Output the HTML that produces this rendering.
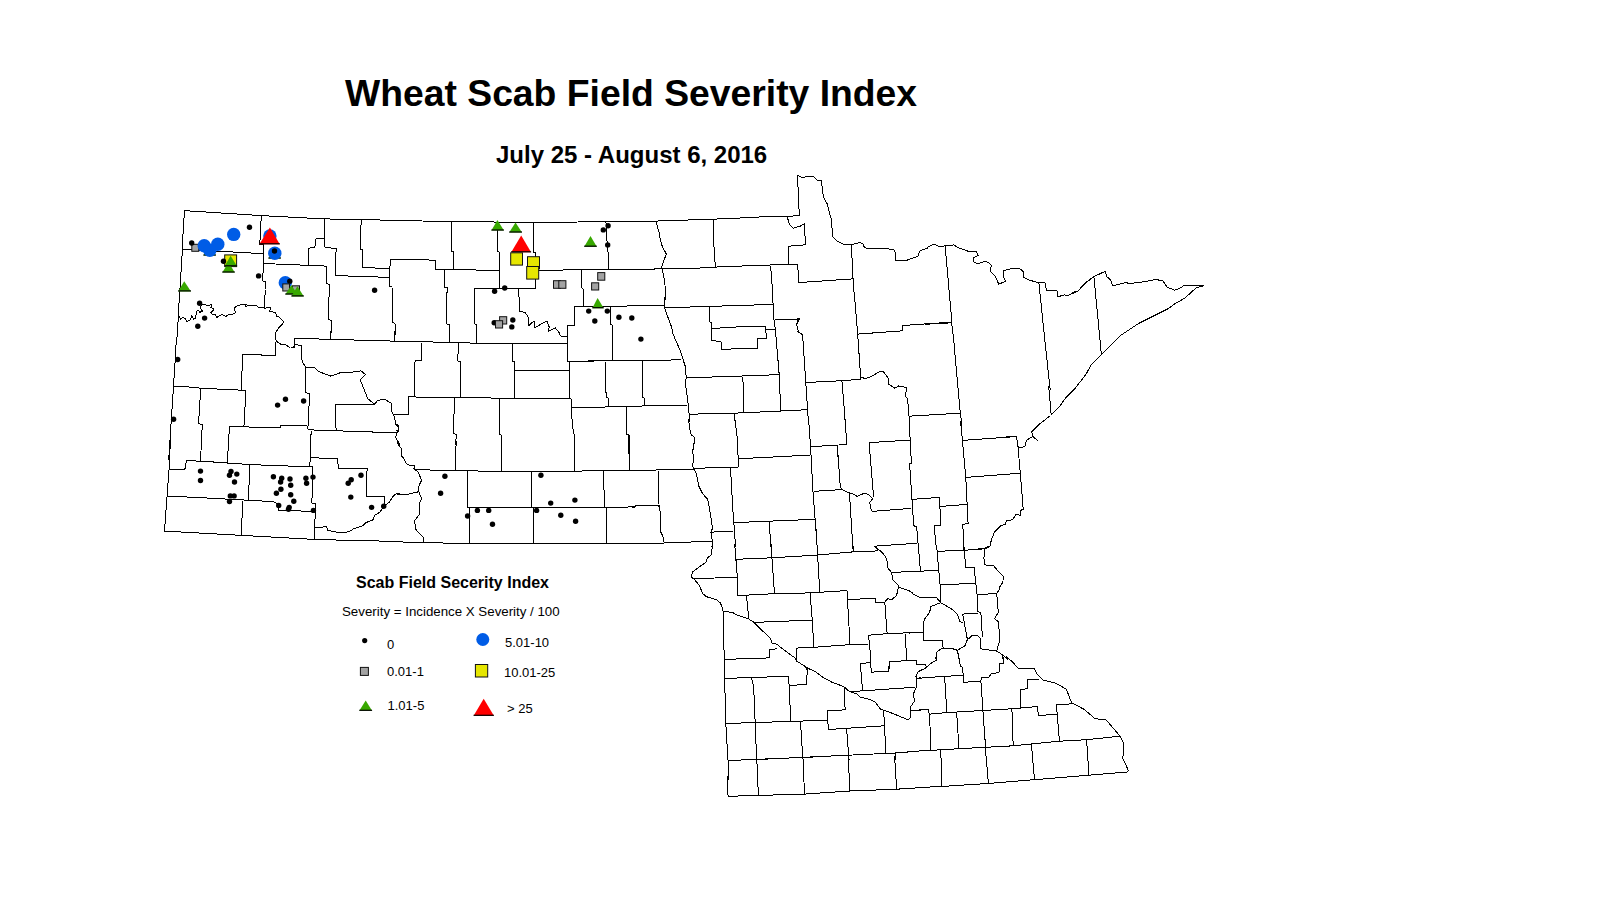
<!DOCTYPE html>
<html><head><meta charset="utf-8">
<style>
html,body{margin:0;padding:0;background:#fff;}
body{width:1612px;height:900px;overflow:hidden;position:relative;font-family:"Liberation Sans",sans-serif;}
svg{position:absolute;left:0;top:0;}
text{font-family:"Liberation Sans",sans-serif;fill:#000;}
</style></head><body>
<svg width="1612" height="900" viewBox="0 0 1612 900">
<g fill="none" stroke="#000" stroke-width="1" stroke-linejoin="round" shape-rendering="crispEdges">
<polyline points="184.2,210.6 261.3,215.6 324.0,218.9 400.0,220.4"/>
<polyline points="184.2,210.6 183.9,223.4 182.7,237.8 182.4,249.1 179.9,289.8"/>
<polyline points="182.4,249.1 262.8,253.7"/>
<polyline points="261.3,215.6 259.8,244.3 263.8,244.3 262.8,280.9 265.4,281.6 265.0,289.5"/>
<polyline points="263.1,263.5 326.3,266.1"/>
<polyline points="324.0,218.9 324.0,238.5 315.7,239.0 314.9,247.6 308.9,248.1 308.9,265.3"/>
<polyline points="324.0,238.5 324.0,246.9 336.1,248.7 335.3,275.6 389.8,277.4"/>
<polyline points="326.3,266.1 326.3,283.1 329.3,284.6 328.5,319.4 331.6,320.9 330.9,335.1"/>
<polyline points="361.8,220.0 360.7,227.2 360.3,249.1 362.5,249.9 362.5,267.3 389.8,268.8"/>
<polyline points="400.1,259.5 390.5,259.7 389.8,268.8 389.8,277.4 389.0,286.2 392.0,286.9 392.8,322.4 395.0,323.9 395.0,335.1"/>
<polyline points="617.6,306.4 642.4,305.4 664.3,305.4"/>
<polyline points="574.4,318.8 574.4,325.5 567.6,326.0 567.4,340.6"/>
<polyline points="563.6,336.3 567.3,336.6"/>
<polyline points="610.6,311.5 610.6,324.0 612.1,324.8 612.9,360.3"/>
<polyline points="588.2,361.0 637.1,360.7 680.9,359.8"/>
<polyline points="665.2,296.3 664.3,299.1 664.0,305.1 665.1,309.7 671.9,327.8 672.6,333.1 680.2,350.5 685.5,367.1 686.2,377.7 685.5,383.7 688.5,406.4 689.7,422.1"/>
<polyline points="665.1,307.8 773.1,304.4"/>
<polyline points="772.7,296.7 773.9,319.5 775.4,329.3 779.2,374.6 780.7,410.9"/>
<polyline points="774.6,319.5 798.8,319.0"/>
<polyline points="798.8,318.0 796.6,324.8 798.8,332.3 800.4,333.5"/>
<polyline points="709.6,306.9 709.6,321.7 711.2,322.5 711.2,340.6 721.0,341.4 721.7,349.3 757.3,348.2 757.3,338.7 766.3,338.4 765.6,326.3 747.4,326.3 711.9,328.5"/>
<polyline points="766.3,329.3 774.6,329.3"/>
<polyline points="686.2,377.4 718.7,376.9 779.2,374.6"/>
<polyline points="742.9,376.9 743.7,412.1"/>
<polyline points="690.0,414.2 733.8,413.2 783.7,410.9 800.1,410.7"/>
<polyline points="734.6,413.2 735.1,422.1"/>
<polyline points="605.3,362.3 606.1,397.3 608.4,398.1 608.5,400.8"/>
<polyline points="642.4,361.0 642.8,397.3 644.6,398.1 644.6,406.4"/>
<polyline points="614.6,406.5 687.0,405.2"/>
<polyline points="626.5,406.7 626.5,418.3"/>
<polyline points="688.6,418.9 689.7,428.6 691.2,434.7 695.0,437.7 692.7,451.3 693.5,458.8 692.7,466.4 696.5,474.0 698.8,486.0 702.6,493.6 707.8,499.6 711.6,520.8 712.4,528.4 710.9,532.9 712.4,540.5 711.9,547.2"/>
<polyline points="632.0,470.6 693.5,469.1 698.0,468.2 738.5,467.1"/>
<polyline points="734.8,418.9 737.3,437.7 738.5,467.1"/>
<polyline points="738.1,458.8 809.9,455.1"/>
<polyline points="730.5,467.9 732.8,508.7 735.6,547.1"/>
<polyline points="711.6,532.1 732.8,531.4"/>
<polyline points="808.6,419.0 810.6,446.7 812.9,490.6 816.2,533.2"/>
<polyline points="810.6,446.7 846.9,444.5 844.9,418.9"/>
<polyline points="837.1,444.9 837.9,456.8"/>
<polyline points="813.7,491.3 835.3,490.2"/>
<polyline points="734.0,522.6 815.2,519.3"/>
<polyline points="769.1,522.0 771.0,547.2"/>
<polyline points="658.4,470.9 658.0,506.1 659.9,506.1 660.5,531.5 663.0,536.5 663.6,542.4"/>
<polyline points="632.0,507.1 635.0,507.1 635.0,506.0 659.9,505.7"/>
<polyline points="632.0,543.5 658.7,543.2 712.4,541.2"/>
<polyline points="854.5,295.9 857.7,334.6 860.8,379.2"/>
<polyline points="951.4,321.5 953.7,339.9 959.8,407.9 961.9,425.1"/>
<polyline points="857.7,334.1 902.3,330.8 902.3,325.5 951.4,322.2"/>
<polyline points="796.8,319.1 799.5,318.4 796.9,324.0"/>
<polyline points="797.2,330.6 797.3,331.6 802.6,334.6 808.4,422.1"/>
<polyline points="805.9,382.5 841.9,380.7 860.8,379.2"/>
<polyline points="860.8,376.9 864.5,378.4 869.1,377.7 879.6,371.6 883.4,371.6 888.0,377.7 888.0,383.7 894.8,388.3 898.5,386.0 906.9,387.5 905.3,395.8 907.6,398.8 909.8,425.1"/>
<polyline points="841.9,380.7 845.3,422.1"/>
<polyline points="797.0,410.4 807.8,409.4"/>
<polyline points="909.1,416.2 959.8,413.2"/>
<polyline points="1077.2,386.0 1065.6,398.1 1059.5,406.5 1050.5,415.5 1039.9,423.8 1031.6,432.1 1033.1,436.7 1038.4,441.2"/>
<polyline points="1032.3,436.7 1026.3,440.5 1024.8,446.5 1020.2,448.0 1018.0,446.5"/>
<polyline points="1048.7,386.0 1051.2,414.8"/>
<polyline points="1003.7,437.2 1016.5,436.2 1018.0,446.5 1022.9,504.6"/>
<polyline points="1011.5,473.6 1020.2,473.0"/>
<polyline points="815.9,526.7 817.3,549.6"/>
<polyline points="846.3,442.3 846.4,444.2 844.6,444.3"/>
<polyline points="837.7,450.8 840.3,487.3 841.9,489.5"/>
<polyline points="832.2,490.2 841.9,489.5 848.7,492.6 851.7,493.3 857.0,496.3 863.0,493.8 868.3,494.1 872.8,498.6 869.8,502.4 870.6,507.7 872.1,511.4 911.4,508.4"/>
<polyline points="869.1,442.7 909.9,440.0"/>
<polyline points="869.1,442.7 873.6,497.1"/>
<polyline points="909.2,421.0 911.4,463.1 909.6,463.8 913.7,525.8 916.7,526.6 918.6,550.1"/>
<polyline points="912.1,499.4 939.4,497.4 940.9,525.1 934.1,525.8 936.5,550.2"/>
<polyline points="940.1,506.5 967.3,504.3"/>
<polyline points="960.6,421.0 965.8,477.4 968.1,523.5 962.8,524.3 964.0,550.1"/>
<polyline points="962.0,440.4 1010.5,437.0"/>
<polyline points="1022.3,498.4 1023.2,509.2 1020.2,510.7 1020.2,515.2 1015.7,514.5 1012.7,519.8 1006.6,520.5 1005.1,524.3 1000.6,525.8 994.5,531.9 991.5,539.4 990.0,546.2 985.5,548.5 985.3,549.4"/>
<polyline points="965.8,477.4 1015.3,473.6"/>
<polyline points="849.4,492.6 853.0,549.3"/>
<polyline points="874.4,546.2 878.1,549.5"/>
<polyline points="874.4,546.2 917.4,543.2"/>
<polyline points="973.9,549.3 985.5,548.5"/>
<polyline points="712.3,543.8 711.7,554.4 707.2,558.1 705.7,562.7 699.7,566.5 692.8,571.7 691.3,577.0 694.4,579.3 699.7,586.1 702.7,593.7 706.5,596.7 716.3,599.7 720.1,602.7 722.3,607.3 723.1,611.0 724.5,670.1"/>
<polyline points="723.1,611.0 732.9,612.6 736.7,614.8 748.0,618.6 754.1,622.4 770.7,639.0 772.2,643.5 777.5,644.3 780.5,647.3 794.9,657.9 796.4,660.9 807.0,667.7 810.3,669.4"/>
<polyline points="734.7,543.9 737.4,577.8 737.4,595.6"/>
<polyline points="692.8,578.5 737.4,577.5"/>
<polyline points="735.9,559.3 771.4,557.8 816.8,555.1 853.8,551.8 878.0,550.9"/>
<polyline points="771.5,544.0 771.9,557.8 774.5,593.7"/>
<polyline points="817.1,546.6 819.8,592.1"/>
<polyline points="853.5,545.9 853.5,551.8"/>
<polyline points="874.2,546.3 881.0,551.3 885.6,556.6 887.1,561.2 887.8,568.0 891.6,572.5 893.1,580.1 898.4,585.3 897.7,591.4 896.2,595.9 891.6,599.7 887.8,598.6 884.8,602.0 875.7,602.3 875.0,598.2 847.8,599.7"/>
<polyline points="898.4,586.9 908.2,590.6 912.6,592.8"/>
<polyline points="891.6,572.5 912.4,571.4"/>
<polyline points="737.4,595.6 774.5,593.7 810.0,592.9 847.0,590.6"/>
<polyline points="847.0,590.6 850.0,644.3"/>
<polyline points="810.0,592.9 812.3,620.1 813.8,647.3"/>
<polyline points="746.5,595.9 748.8,619.4"/>
<polyline points="754.1,622.4 812.3,620.1"/>
<polyline points="796.4,648.1 813.8,647.3 850.0,644.6 868.9,644.0"/>
<polyline points="796.4,648.1 796.4,660.9"/>
<polyline points="884.8,602.0 887.1,633.7"/>
<polyline points="868.2,635.2 887.1,633.7 913.0,632.6"/>
<polyline points="868.2,635.2 869.7,644.3 871.1,669.6"/>
<polyline points="889.4,669.3 889.4,661.7 912.9,660.3"/>
<polyline points="905.2,633.7 906.7,660.2"/>
<polyline points="860.6,669.5 860.6,663.9 869.7,662.4"/>
<polyline points="724.6,659.4 769.2,657.9 769.2,649.6 777.5,648.8"/>
<polyline points="806.2,667.7 806.4,669.6"/>
<polyline points="918.4,546.3 920.4,571.0"/>
<polyline points="909.7,571.8 937.8,570.2"/>
<polyline points="936.7,546.6 940.1,585.3 940.8,602.7"/>
<polyline points="937.0,551.3 963.5,550.3 984.6,548.8 987.7,546.3"/>
<polyline points="964.0,546.5 965.8,568.0 974.1,567.5 977.1,594.4 977.8,611.8 980.9,612.6 982.4,636.7"/>
<polyline points="940.1,585.0 975.6,583.1"/>
<polyline points="984.6,548.8 983.9,558.1 984.6,564.9 993.7,565.7 996.7,569.5 1003.5,576.3 1002.8,582.3 999.8,586.9 999.0,589.9 996.7,593.7 977.1,594.4"/>
<polyline points="996.7,593.7 998.3,612.6 994.5,618.6 998.3,621.6 999.0,629.2 999.0,642.8 996.7,651.1"/>
<polyline points="909.1,590.6 913.6,594.4 919.7,597.4 936.3,597.4 940.8,602.7"/>
<polyline points="940.8,602.7 931.0,606.5 929.5,612.6 924.9,618.6 923.4,622.4 923.4,640.5 942.3,640.5 943.1,648.1 952.9,648.8 957.4,650.3 965.0,645.8 967.3,639.8 972.6,635.2 977.1,635.2 980.1,638.3 980.9,648.8 996.7,651.1 1002.8,654.9 1007.7,659.8"/>
<polyline points="940.8,602.7 951.4,608.8 957.4,614.1 959.7,621.6 963.5,623.1"/>
<polyline points="962.7,614.1 977.8,613.3"/>
<polyline points="962.7,614.1 967.3,639.0"/>
<polyline points="908.8,633.1 923.4,632.2"/>
<polyline points="908.8,660.9 916.6,660.2 916.6,662.1"/>
<polyline points="942.3,648.1 937.0,651.9 935.5,659.4"/>
<polyline points="957.4,650.3 959.2,659.7"/>
<polyline points="1002.8,654.9 1002.8,659.4"/>
<polyline points="724.4,665.9 725.7,722.0 728.0,759.8 728.4,780.4"/>
<polyline points="805.1,666.7 807.3,668.3 814.9,671.3 823.9,678.1 833.0,682.7 843.6,686.5 849.6,691.7 857.2,694.0 860.2,697.0 869.3,699.3 875.3,702.3 880.6,709.1 893.5,713.7 907.8,719.7 910.9,717.4 910.1,707.6 914.6,700.8 913.1,694.8 916.2,687.2 916.9,679.7 916.2,675.1 917.2,673.6"/>
<polyline points="724.9,678.4 788.4,676.3 789.2,685.7 806.6,684.2 807.3,668.3"/>
<polyline points="751.4,677.8 753.7,687.2 756.7,760.0"/>
<polyline points="789.2,685.7 790.7,721.2"/>
<polyline points="725.7,723.5 827.7,720.2"/>
<polyline points="827.7,720.2 827.0,710.6 845.1,709.9 844.4,687.2"/>
<polyline points="827.7,720.2 828.5,729.5 883.7,725.8"/>
<polyline points="800.5,722.0 802.9,759.4"/>
<polyline points="846.6,728.8 849.1,760.1"/>
<polyline points="883.7,710.6 885.9,753.0"/>
<polyline points="728.0,760.5 749.6,759.7"/>
<polyline points="761.4,759.3 895.0,753.0 913.6,751.6"/>
<polyline points="895.0,753.0 895.3,759.8"/>
<polyline points="910.1,710.6 922.5,709.9"/>
<polyline points="850.4,691.7 915.4,687.2"/>
<polyline points="860.5,665.9 862.5,690.2"/>
<polyline points="870.7,666.2 871.6,672.1 888.9,671.3 888.9,666.4"/>
<polyline points="916.9,678.1 920.8,677.9"/>
<polyline points="908.9,660.7 915.9,660.4 916.6,664.2 925.7,664.9 926.5,668.0"/>
<polyline points="936.3,656.0 936.3,660.4 931.7,662.7 925.7,668.0 918.1,671.7 915.9,676.3 916.2,678.9"/>
<polyline points="958.7,656.7 960.5,666.5 962.7,667.2 963.5,682.3 980.9,681.1"/>
<polyline points="1005.8,656.6 1011.9,661.2 1017.9,668.0 1033.8,668.0 1037.6,674.8 1042.8,680.1 1055.7,683.1 1066.3,689.1 1071.6,702.7 1084.4,709.5 1095.0,718.6 1104.6,720.0"/>
<polyline points="1002.9,656.0 1003.5,663.4 999.8,663.4 999.0,672.5 990.7,674.0 989.2,677.0 981.6,677.0 980.9,681.1 984.6,734.7"/>
<polyline points="915.9,678.5 944.6,676.3 962.7,675.5"/>
<polyline points="944.6,676.3 946.9,712.6"/>
<polyline points="919.3,709.9 928.0,709.5 929.5,714.1 946.9,712.6 1011.9,708.8 1037.6,706.5 1038.3,715.6 1057.2,714.1 1056.4,705.0 1071.6,703.8"/>
<polyline points="1039.1,679.3 1027.7,679.6 1027.7,688.7 1020.2,689.6 1020.9,708.0"/>
<polyline points="929.5,714.1 931.0,750.3"/>
<polyline points="956.7,713.3 959.0,748.5"/>
<polyline points="1011.9,708.8 1012.7,730.2"/>
<polyline points="1057.2,714.1 1058.5,729.4"/>
<polyline points="924.2,750.8 970.7,748.0"/>
<polyline points="940.8,750.3 941.3,768.1"/>
<polyline points="727.4,775.5 727.4,787.3 728.1,796.3"/>
<polyline points="756.7,756.4 758.4,795.6"/>
<polyline points="802.9,756.0 804.5,794.1"/>
<polyline points="848.3,756.5 849.8,791.0"/>
<polyline points="894.6,756.2 896.7,789.5"/>
<polyline points="941.0,762.0 942.0,786.5"/>
<polyline points="743.1,759.9 820.7,756.7"/>
<polyline points="907.0,751.8 929.7,750.3"/>
<polyline points="728.1,796.3 804.5,794.1 849.8,791.0 896.7,789.2 942.0,786.2 948.0,786.2"/>
<polyline points="178.7,316.1 180.6,319.1 183.2,317.2 185.1,318.7 187.0,321.4 190.0,320.2 191.9,315.7 193.4,319.1 195.7,318.0 196.4,311.2 198.7,310.4 199.8,312.3 202.5,311.2 200.6,308.1 201.0,305.9 203.2,304.4 209.3,305.9 211.2,304.0 211.6,305.9 210.8,307.4 213.5,308.9 213.1,310.4 210.8,312.7 212.3,314.2 215.3,314.6 216.9,317.6 219.1,315.7 222.1,314.6 225.9,316.4 228.2,314.9 232.7,314.2 235.7,312.7 234.2,308.1 237.3,305.5 242.5,304.4 246.3,304.7 245.6,306.2 249.3,305.5 256.9,305.9 258.4,307.4 262.2,307.0 264.5,308.1 270.5,307.8 269.7,311.2 275.8,312.7 276.5,316.4 279.6,317.2 283.4,321.7 282.6,324.0 278.8,327.8 275.8,332.3 275.4,339.1 277.3,342.1 281.1,344.4 285.6,344.8 290.0,347.8"/>
<polyline points="179.1,290.0 179.1,302.8 178.3,303.2 178.3,321.7 177.6,322.5 177.2,336.9 176.4,337.6 175.3,358.0"/>
<polyline points="265.2,290.0 264.5,308.1"/>
<polyline points="275.8,342.1 275.8,355.0 261.4,355.0 260.7,354.2 242.5,354.6 242.5,358.0"/>
<polyline points="396.9,220.5 452.4,221.6 533.3,222.4 635.1,221.5"/>
<polyline points="452.4,221.6 451.7,222.7 451.2,251.4 454.0,252.1 453.2,269.5"/>
<polyline points="397.0,259.0 425.2,259.7 435.1,260.5 435.5,269.5 499.3,270.3"/>
<polyline points="497.5,221.6 497.5,251.4 499.3,252.1 499.3,288.4"/>
<polyline points="533.3,222.4 533.3,252.1 535.6,252.9 536.0,270.3 535.6,288.4"/>
<polyline points="474.4,288.4 535.6,288.4"/>
<polyline points="474.4,288.4 474.4,323.9 476.6,324.7 476.6,335.1"/>
<polyline points="518.9,288.4 519.2,311.1 525.0,312.6 528.0,316.4 528.8,325.5 534.1,320.9 534.8,327.7 546.9,320.9 549.2,327.0 548.4,331.5 555.2,327.7 560.5,334.5"/>
<polyline points="444.9,269.5 444.1,286.9 447.1,287.7 446.4,323.9 449.1,324.7 449.4,335.1"/>
<polyline points="536.0,270.3 635.1,269.2"/>
<polyline points="605.9,221.6 606.6,230.2 607.4,251.4 608.4,252.1 608.4,269.2"/>
<polyline points="581.7,270.3 581.7,287.7 583.2,289.2 583.9,306.6 574.9,306.6 574.2,324.5"/>
<polyline points="573.1,325.5 567.3,325.5 567.3,331.2"/>
<polyline points="583.9,306.6 623.2,306.6"/>
<polyline points="610.4,306.6 610.4,314.3"/>
<polyline points="984.6,728.7 985.3,747.3 988.4,783.5"/>
<polyline points="1099.8,719.2 1106.3,720.1 1119.9,735.9 1123.7,743.5 1122.9,758.6 1125.9,764.6 1128.2,770.7"/>
<polyline points="1058.2,726.4 1059.4,741.2"/>
<polyline points="1012.1,726.3 1013.3,745.8"/>
<polyline points="964.8,748.4 1013.3,745.8 1059.4,741.2 1086.6,739.7 1119.9,736.2"/>
<polyline points="1031.4,744.2 1034.5,779.8"/>
<polyline points="1086.6,739.7 1088.9,775.2"/>
<polyline points="943.9,786.3 988.4,783.5 1128.2,771.9"/>
<polyline points="632.0,221.4 655.7,221.1 726.7,218.7 776.6,216.1 787.2,216.6 799.3,215.3 797.5,175.3 802.3,177.6 808.4,176.3 813.7,176.8 817.4,180.6 821.2,180.6 823.5,197.2 827.3,204.0 831.0,218.4 832.5,232.0 832.2,236.5 837.1,241.0 843.1,244.1 851.4,244.8 859.8,242.6 863.5,244.1 864.3,247.8 870.1,248.4"/>
<polyline points="787.2,216.9 789.5,224.4 793.2,228.2 800.8,225.9 804.6,223.7 805.3,244.8 788.0,246.3 788.4,264.5"/>
<polyline points="655.7,221.1 659.5,233.5 660.2,239.5 662.5,247.1 666.3,253.9 661.7,266.7 664.8,281.9 665.5,293.9 665.2,299.5"/>
<polyline points="632.0,269.4 695.0,268.3 722.2,266.7 784.2,264.5 797.8,264.5"/>
<polyline points="713.1,219.6 713.9,245.6 715.4,267.5"/>
<polyline points="770.6,266.0 772.1,284.9 772.6,299.3"/>
<polyline points="797.8,264.5 798.5,282.6 853.7,278.8"/>
<polyline points="851.4,244.8 853.0,278.8 854.7,300.2"/>
<polyline points="866.9,248.2 872.6,249.0 883.1,248.4 893.7,249.5 895.2,252.5 895.5,260.5 907.3,260.1 917.9,256.3 919.4,251.7 922.4,249.5 927.0,248.7 928.5,246.5 934.5,244.2 939.1,246.5 954.2,244.9 957.2,247.2 969.3,251.7 976.1,251.7 978.4,255.5 973.8,257.8 973.1,261.6 977.6,263.8 984.4,261.6 988.2,262.3 991.2,265.3 990.5,271.4 995.0,275.9 998.8,284.2 1005.6,281.2 1003.3,276.7 1003.3,270.6 1012.4,268.4 1019.2,268.1 1023.7,272.1 1023.7,277.4 1028.2,279.7 1035.8,282.0 1044.9,282.0 1046.4,290.3 1057.0,291.0 1057.0,297.1 1064.5,294.8 1067.5,295.6 1078.1,291.0 1085.7,282.0 1089.9,279.9"/>
<polyline points="945.1,246.0 951.2,313.7 951.4,324.7"/>
<polyline points="924.5,324.3 951.2,322.8"/>
<polyline points="1038.8,282.0 1043.3,325.4"/>
<polyline points="1072.0,292.5 1078.0,291.0 1085.6,282.7 1093.9,276.6 1105.2,271.3 1106.7,276.6 1110.5,279.7 1112.8,285.7 1124.9,282.7 1130.9,283.4 1143.0,281.9 1155.1,279.7 1162.7,280.4 1167.2,287.2 1174.8,290.2 1179.3,288.7 1183.8,285.7 1203.5,285.7"/>
<polyline points="1203.5,285.7 1195.9,288.0 1185.3,297.8 1174.8,303.8 1168.7,308.4 1138.5,323.5 1120.3,335.6 1091.6,364.3 1085.6,374.9 1073.9,389.8"/>
<polyline points="1042.7,320.1 1050.2,390.1"/>
<polyline points="1093.9,276.6 1101.4,354.5"/>
<polyline points="175.3,358.3 168.7,460.1"/>
<polyline points="173.6,386.2 185.7,386.7 200.8,388.2 241.6,390.2 245.9,390.8"/>
<polyline points="200.8,388.2 198.5,423.7 202.3,424.5 201.3,444.9"/>
<polyline points="241.6,390.2 242.3,357.9"/>
<polyline points="290.5,346.9 293.0,348.1 295.3,344.4 302.1,345.9 301.3,349.7 302.1,361.7 305.9,367.0 314.2,367.0 318.7,371.6 330.8,376.1 341.4,372.3 350.5,372.3 361.0,370.8 365.6,374.6 360.3,379.9 367.8,398.8 374.6,404.1 377.7,400.3 385.2,399.5 391.3,403.3 392.0,412.4 394.3,416.2 395.8,424.5 398.8,428.3 396.6,432.8 395.8,437.3 399.8,445.1"/>
<polyline points="294.5,348.1 294.2,338.3 400.0,341.3"/>
<polyline points="330.8,330.9 330.8,339.1"/>
<polyline points="394.3,330.9 394.3,341.3"/>
<polyline points="245.9,390.8 243.9,426.7 229.5,426.7 228.4,444.4"/>
<polyline points="243.9,426.7 262.8,427.9 280.9,427.9 280.9,425.5 307.4,426.0 308.1,429.8 395.8,432.8"/>
<polyline points="305.9,367.0 305.1,392.7 309.6,393.5 308.1,426.0"/>
<polyline points="336.1,430.5 335.3,404.1 374.6,404.1"/>
<polyline points="392.8,414.6 400.2,414.6"/>
<polyline points="311.2,430.5 310.6,444.3"/>
<polyline points="171.0,427.9 169.1,468.4 164.5,531.1"/>
<polyline points="169.1,469.6 184.9,469.1 186.5,460.8 200.8,461.1 249.9,464.6 312.7,466.9"/>
<polyline points="201.5,441.0 200.5,460.8"/>
<polyline points="228.6,441.5 227.3,463.1"/>
<polyline points="310.9,441.3 310.4,457.8 309.6,466.1"/>
<polyline points="311.2,457.8 337.6,458.5 338.4,468.4 367.1,468.4 366.3,496.3 384.5,496.3 385.2,506.2"/>
<polyline points="249.9,464.6 248.4,500.1"/>
<polyline points="166.8,496.3 190.2,497.1 273.4,501.6 278.7,504.6 278.7,510.4 315.7,511.4"/>
<polyline points="242.4,500.9 241.6,535.6"/>
<polyline points="312.7,466.9 311.9,503.1 315.7,503.1 314.2,539.4"/>
<polyline points="314.2,528.1 326.3,526.6 327.8,530.3 338.4,532.6 348.9,531.9 353.5,528.8 362.5,525.8 365.6,522.8 373.1,519.8 374.6,515.2 379.9,512.2 383.0,507.7 389.8,501.6 393.5,495.6 397.3,493.3 400.1,494.2"/>
<polyline points="164.5,531.1 314.2,539.4 367.1,540.9 400.0,541.2"/>
<polyline points="397.0,341.4 455.5,342.4 476.6,343.3 567.3,343.3"/>
<polyline points="449.4,331.0 449.4,342.4"/>
<polyline points="476.6,331.0 476.6,343.3"/>
<polyline points="549.2,331.5 549.2,332.3"/>
<polyline points="558.4,331.7 560.5,336.0 567.3,336.3"/>
<polyline points="421.5,342.8 421.5,360.2 415.4,360.5 414.3,365.5 414.3,396.5 408.6,396.5 408.3,414.3 396.9,414.3"/>
<polyline points="458.5,343.3 457.7,361.0 460.3,361.7 460.3,397.3"/>
<polyline points="512.6,343.6 512.6,361.4 514.4,361.7 514.4,398.3"/>
<polyline points="514.4,370.5 568.8,370.5"/>
<polyline points="567.3,334.0 567.3,361.0 569.6,361.7 569.6,398.3"/>
<polyline points="567.3,361.4 594.2,361.4"/>
<polyline points="606.5,392.5 606.6,397.3 608.4,398.0 608.4,406.3"/>
<polyline points="408.6,396.5 420.7,397.3 571.1,398.8"/>
<polyline points="571.1,398.8 571.5,407.1 585.5,407.4 621.1,406.7"/>
<polyline points="454.7,398.0 453.2,433.5 456.2,434.3 455.8,445.1"/>
<polyline points="499.3,398.8 499.3,434.3 501.6,435.1 501.6,445.0"/>
<polyline points="571.1,407.1 572.6,426.7 574.1,434.3 574.4,445.2"/>
<polyline points="626.3,411.9 626.3,434.3 628.5,435.1 629.2,461.0"/>
<polyline points="396.8,423.7 398.0,425.2 398.8,429.8 396.5,430.7"/>
<polyline points="397.0,442.6 401.8,449.4 401.8,455.5 404.5,460.0"/>
<polyline points="396.8,424.1 398.0,425.3 398.8,430.6 397.0,432.8"/>
<polyline points="397.0,442.0 401.8,449.5 401.8,457.0 404.8,460.1 406.3,463.8 410.1,465.3 414.7,465.3 413.9,469.1 418.4,472.1 421.5,480.5 419.2,485.0 418.4,490.3 421.5,498.6 419.9,502.4 419.2,509.2 419.9,513.7 414.7,520.5 415.4,528.8 418.4,532.6 423.0,537.1 423.7,541.7"/>
<polyline points="396.7,494.3 401.0,494.8 408.6,494.1 418.4,491.8"/>
<polyline points="414.7,469.9 455.5,470.2 488.7,471.4 574.9,471.4 590.0,470.6 635.0,470.3"/>
<polyline points="456.3,441.2 455.5,454.8 455.5,469.9"/>
<polyline points="501.0,441.2 501.6,470.6"/>
<polyline points="574.6,441.0 574.6,471.4"/>
<polyline points="626.7,427.7 627.0,434.4 629.0,435.1 629.3,470.3"/>
<polyline points="467.6,471.4 467.6,507.4 604.4,507.4 635.0,506.9"/>
<polyline points="531.0,471.4 531.8,507.4"/>
<polyline points="603.6,471.1 604.4,507.4"/>
<polyline points="469.1,507.4 469.4,543.2"/>
<polyline points="533.3,507.7 533.3,543.2"/>
<polyline points="606.6,507.7 606.6,543.2"/>
<polyline points="396.8,541.2 403.3,542.1 450.9,543.2 587.0,543.9 635.0,543.2"/>
</g>
<g>
<polygon points="209.6,245.0 203.4,255.5 215.9,255.5" fill="#38a800"/><line x1="203.4" y1="255.0" x2="215.9" y2="255.0" stroke="#000" stroke-width="1.2"/>
<polygon points="274.6,248.0 268.4,258.5 280.9,258.5" fill="#38a800"/><line x1="268.4" y1="258.0" x2="280.9" y2="258.0" stroke="#000" stroke-width="1.2"/>
<rect x="191.8" y="244.3" width="7.0" height="7.0" fill="#a3a3a3" stroke="#111" stroke-width="1"/>
<circle cx="191.7" cy="243.0" r="2.7" fill="#000"/>
<circle cx="233.7" cy="234.4" r="6.7" fill="#005ce6"/>
<circle cx="204.2" cy="245.7" r="6.7" fill="#005ce6"/>
<circle cx="217.8" cy="244.2" r="6.7" fill="#005ce6"/>
<circle cx="209.8" cy="250.2" r="6.7" fill="#005ce6"/>
<circle cx="249.5" cy="227.2" r="2.7" fill="#000"/>
<circle cx="269.9" cy="235.9" r="6.7" fill="#005ce6"/>
<polygon points="269.9,227.6 259.3,244.3 279.8,244.3" fill="#ff0000"/><line x1="259.3" y1="243.8" x2="279.8" y2="243.8" stroke="#000" stroke-width="1.2"/>
<circle cx="274.8" cy="253.2" r="6.7" fill="#005ce6"/>
<circle cx="274.5" cy="251.0" r="2.7" fill="#000"/>
<rect x="224.7" y="254.9" width="11.9" height="11.7" fill="#e6e600" stroke="#111" stroke-width="1"/>
<polygon points="228.5,262.3 222.3,272.5 234.8,272.5" fill="#38a800"/><line x1="222.3" y1="272.0" x2="234.8" y2="272.0" stroke="#000" stroke-width="1.2"/>
<polygon points="230.6,255.8 224.6,266.3 237.1,266.3" fill="#38a800"/><line x1="224.6" y1="265.8" x2="237.1" y2="265.8" stroke="#000" stroke-width="1.2"/>
<circle cx="223.5" cy="261.2" r="2.7" fill="#000"/>
<circle cx="258.6" cy="275.9" r="2.7" fill="#000"/>
<rect x="292.5" y="285.8" width="7.0" height="7.0" fill="#a3a3a3" stroke="#111" stroke-width="1"/>
<circle cx="285.3" cy="282.8" r="6.7" fill="#005ce6"/>
<circle cx="289.8" cy="281.3" r="2.7" fill="#000"/>
<rect x="282.8" y="283.9" width="6.7" height="7.1" fill="#a3a3a3" stroke="#111" stroke-width="1"/>
<polygon points="291.4,285.1 285.3,294.5 297.5,294.5" fill="#38a800"/><line x1="285.3" y1="294.0" x2="297.5" y2="294.0" stroke="#000" stroke-width="1.2"/>
<polygon points="297.4,286.2 291.4,296.4 303.8,296.4" fill="#38a800"/><line x1="291.4" y1="295.9" x2="303.8" y2="295.9" stroke="#000" stroke-width="1.2"/>
<polygon points="184.2,281.3 178.1,291.4 191.0,291.4" fill="#38a800"/><line x1="178.1" y1="290.9" x2="191.0" y2="290.9" stroke="#000" stroke-width="1.2"/>
<polygon points="497.4,220.1 491.4,230.5 503.9,230.5" fill="#38a800"/><line x1="491.4" y1="230.0" x2="503.9" y2="230.0" stroke="#000" stroke-width="1.2"/>
<polygon points="515.5,222.6 509.2,232.5 522.0,232.5" fill="#38a800"/><line x1="509.2" y1="232.0" x2="522.0" y2="232.0" stroke="#000" stroke-width="1.2"/>
<polygon points="521.2,235.5 511.2,252.3 531.1,252.3" fill="#ff0000"/><line x1="511.2" y1="251.8" x2="531.1" y2="251.8" stroke="#000" stroke-width="1.2"/>
<rect x="510.7" y="252.8" width="11.8" height="12.3" fill="#e6e600" stroke="#111" stroke-width="1"/>
<rect x="527.5" y="256.7" width="12.0" height="12.0" fill="#e6e600" stroke="#111" stroke-width="1"/>
<rect x="526.7" y="266.5" width="12.0" height="12.6" fill="#e6e600" stroke="#111" stroke-width="1"/>
<polygon points="590.5,236.0 584.2,246.7 596.8,246.7" fill="#38a800"/><line x1="584.2" y1="246.2" x2="596.8" y2="246.2" stroke="#000" stroke-width="1.2"/>
<circle cx="603.3" cy="229.9" r="2.7" fill="#000"/>
<circle cx="608.1" cy="225.8" r="2.7" fill="#000"/>
<circle cx="607.7" cy="244.9" r="2.7" fill="#000"/>
<rect x="553.5" y="280.7" width="7.0" height="7.6" fill="#a3a3a3" stroke="#111" stroke-width="1"/>
<rect x="558.8" y="280.7" width="7.1" height="7.6" fill="#a3a3a3" stroke="#111" stroke-width="1"/>
<rect x="597.7" y="272.6" width="7.1" height="7.6" fill="#a3a3a3" stroke="#111" stroke-width="1"/>
<rect x="591.6" y="282.8" width="7.1" height="7.2" fill="#a3a3a3" stroke="#111" stroke-width="1"/>
<circle cx="494.6" cy="291.2" r="2.7" fill="#000"/>
<circle cx="504.7" cy="288.0" r="2.7" fill="#000"/>
<circle cx="588.7" cy="311.1" r="2.7" fill="#000"/>
<circle cx="607.3" cy="311.1" r="2.7" fill="#000"/>
<circle cx="594.8" cy="321.0" r="2.7" fill="#000"/>
<polygon points="597.6,298.1 592.3,308.2 603.7,308.2" fill="#38a800"/><line x1="592.3" y1="307.7" x2="603.7" y2="307.7" stroke="#000" stroke-width="1.2"/>
<circle cx="494.2" cy="322.8" r="2.7" fill="#000"/>
<rect x="499.6" y="316.7" width="7.1" height="7.3" fill="#a3a3a3" stroke="#111" stroke-width="1"/>
<rect x="495.5" y="320.7" width="7.1" height="7.3" fill="#a3a3a3" stroke="#111" stroke-width="1"/>
<circle cx="512.8" cy="320.0" r="2.7" fill="#000"/>
<circle cx="511.8" cy="326.9" r="2.7" fill="#000"/>
<circle cx="200.5" cy="471.1" r="2.7" fill="#000"/>
<circle cx="200.5" cy="480.5" r="2.7" fill="#000"/>
<circle cx="231.0" cy="471.4" r="2.7" fill="#000"/>
<circle cx="229.5" cy="475.2" r="2.7" fill="#000"/>
<circle cx="236.8" cy="474.1" r="2.7" fill="#000"/>
<circle cx="234.5" cy="482.0" r="2.7" fill="#000"/>
<circle cx="230.3" cy="495.9" r="2.7" fill="#000"/>
<circle cx="234.1" cy="495.9" r="2.7" fill="#000"/>
<circle cx="229.5" cy="501.6" r="2.7" fill="#000"/>
<circle cx="273.4" cy="476.7" r="2.7" fill="#000"/>
<circle cx="281.7" cy="478.2" r="2.7" fill="#000"/>
<circle cx="280.6" cy="482.0" r="2.7" fill="#000"/>
<circle cx="290.0" cy="479.0" r="2.7" fill="#000"/>
<circle cx="290.7" cy="485.3" r="2.7" fill="#000"/>
<circle cx="280.9" cy="489.2" r="2.7" fill="#000"/>
<circle cx="276.4" cy="493.3" r="2.7" fill="#000"/>
<circle cx="290.7" cy="494.8" r="2.7" fill="#000"/>
<circle cx="293.8" cy="501.3" r="2.7" fill="#000"/>
<circle cx="278.7" cy="505.4" r="2.7" fill="#000"/>
<circle cx="289.2" cy="507.4" r="2.7" fill="#000"/>
<circle cx="288.5" cy="509.2" r="2.7" fill="#000"/>
<circle cx="305.9" cy="478.2" r="2.7" fill="#000"/>
<circle cx="306.6" cy="483.2" r="2.7" fill="#000"/>
<circle cx="313.0" cy="477.1" r="2.7" fill="#000"/>
<circle cx="313.4" cy="510.4" r="2.7" fill="#000"/>
<circle cx="351.2" cy="479.7" r="2.7" fill="#000"/>
<circle cx="348.2" cy="483.2" r="2.7" fill="#000"/>
<circle cx="361.0" cy="475.2" r="2.7" fill="#000"/>
<circle cx="350.8" cy="497.1" r="2.7" fill="#000"/>
<circle cx="371.6" cy="507.4" r="2.7" fill="#000"/>
<circle cx="383.7" cy="506.2" r="2.7" fill="#000"/>
<circle cx="444.9" cy="476.2" r="2.7" fill="#000"/>
<circle cx="440.6" cy="493.3" r="2.7" fill="#000"/>
<circle cx="467.6" cy="516.0" r="2.7" fill="#000"/>
<circle cx="477.4" cy="510.4" r="2.7" fill="#000"/>
<circle cx="488.7" cy="510.4" r="2.7" fill="#000"/>
<circle cx="492.5" cy="524.3" r="2.7" fill="#000"/>
<circle cx="540.9" cy="475.2" r="2.7" fill="#000"/>
<circle cx="550.7" cy="503.1" r="2.7" fill="#000"/>
<circle cx="574.9" cy="500.1" r="2.7" fill="#000"/>
<circle cx="536.6" cy="510.4" r="2.7" fill="#000"/>
<circle cx="560.8" cy="515.2" r="2.7" fill="#000"/>
<circle cx="575.6" cy="521.3" r="2.7" fill="#000"/>
<circle cx="618.9" cy="317.2" r="2.7" fill="#000"/>
<circle cx="631.8" cy="318.0" r="2.7" fill="#000"/>
<circle cx="640.9" cy="339.1" r="2.7" fill="#000"/>
<circle cx="177.7" cy="359.5" r="2.7" fill="#000"/>
<circle cx="173.6" cy="419.2" r="2.7" fill="#000"/>
<circle cx="285.5" cy="399.2" r="2.7" fill="#000"/>
<circle cx="277.6" cy="405.1" r="2.7" fill="#000"/>
<circle cx="303.6" cy="401.0" r="2.7" fill="#000"/>
<circle cx="199.6" cy="303.2" r="2.7" fill="#000"/>
<circle cx="204.6" cy="318.1" r="2.7" fill="#000"/>
<circle cx="197.8" cy="326.3" r="2.7" fill="#000"/>
<circle cx="374.6" cy="290.2" r="2.7" fill="#000"/>
</g>
<text id="t1" x="345" y="106" font-size="37.3" font-weight="bold">Wheat Scab Field Severity Index</text>
<text id="t2" x="496" y="163" font-size="24" font-weight="bold">July 25 - August 6, 2016</text>
<text id="t3" x="356" y="588" font-size="16" font-weight="bold">Scab Field Secerity Index</text>
<text id="t4" x="342" y="616" font-size="13.3">Severity = Incidence X Severity / 100</text>
<text x="387" y="649" font-size="13">0</text>
<text x="387" y="676" font-size="13">0.01-1</text>
<text x="387.5" y="710" font-size="13">1.01-5</text>
<text x="505" y="647" font-size="13">5.01-10</text>
<text x="504" y="677" font-size="13">10.01-25</text>
<text x="507" y="713" font-size="13">&gt; 25</text>
<g>
<circle cx="364.7" cy="640.6" r="2.6" fill="#000"/>
<circle cx="482.8" cy="639.5" r="6.5" fill="#005ce6"/>
<rect x="360.4" y="667.4" width="8" height="8" fill="#a3a3a3" stroke="#111" stroke-width="1"/>
<rect x="475.4" y="664.5" width="12.3" height="12.5" fill="#e6e600" stroke="#111" stroke-width="1"/>
<polygon points="365.7,700.5 359.3,710.8 372.1,710.8" fill="#38a800"/><line x1="359.3" y1="710.3" x2="372.1" y2="710.3" stroke="#000" stroke-width="1.2"/>
<polygon points="483.7,698.7 473.6,715.8 493.9,715.8" fill="#ff0000"/><line x1="473.6" y1="715.3" x2="493.9" y2="715.3" stroke="#000" stroke-width="1.2"/>
</g>
</svg>
</body></html>
